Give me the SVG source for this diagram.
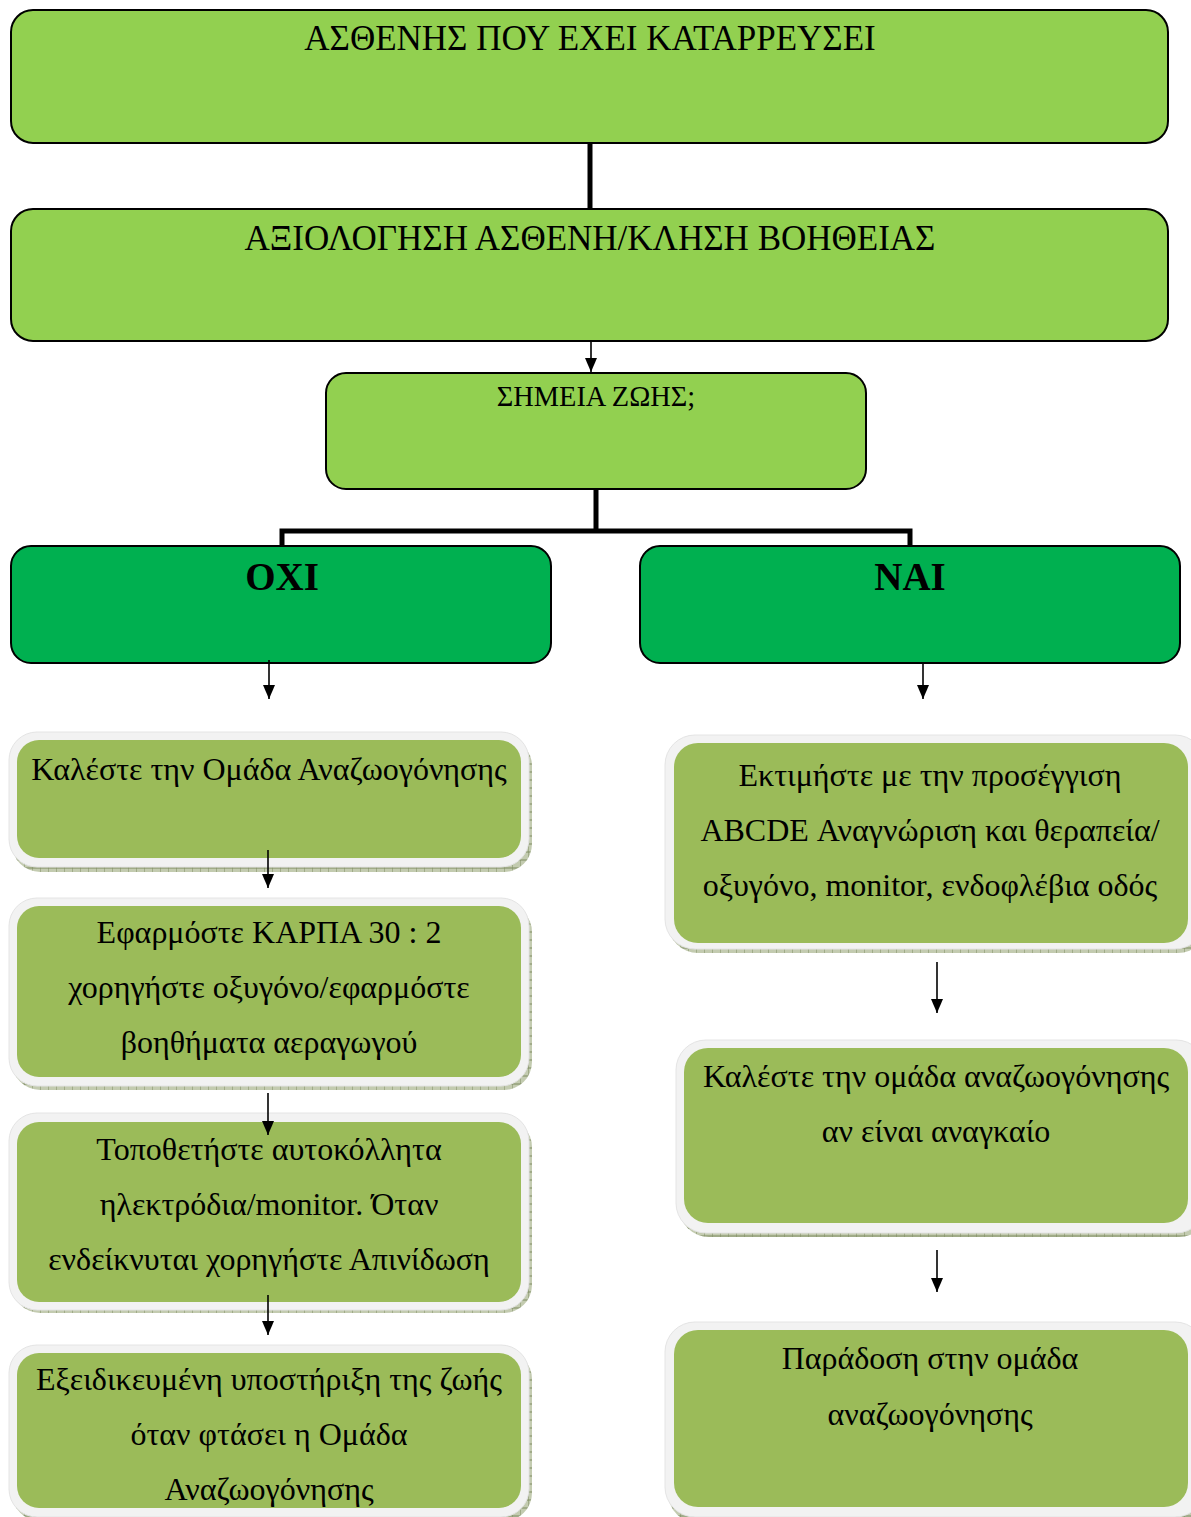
<svg xmlns="http://www.w3.org/2000/svg" width="1191" height="1517" viewBox="0 0 1191 1517">
<defs>
<style>
.top{fill:#92d050;stroke:#000;stroke-width:2}
.dec{fill:#00b050;stroke:#000;stroke-width:2}
.rim{fill:#f2f2f2;stroke:#e4e4e4;stroke-width:1}
.inner{fill:#9bbb59}
.sh{fill:url(#hatch)}
.t{font-family:"Liberation Serif","Times New Roman",serif;fill:#000;text-anchor:middle}
.h{font-size:35px}
.m{font-size:28.4px}
.b{font-size:39px;font-weight:bold}
.s{font-size:32px}
.thick{stroke:#000;stroke-width:5;fill:none}
.thin{stroke:#000;stroke-width:1.6;fill:none;marker-end:url(#ah)}
</style>
<pattern id="hatch" width="8" height="8" patternUnits="userSpaceOnUse">
<rect width="8" height="8" fill="#c3cbb0"/>
<path d="M0 0V8M0 4H8" stroke="#7d8c60" stroke-width="1"/>
</pattern>
<marker id="ah" markerWidth="14" markerHeight="12" refX="14" refY="6" orient="auto" markerUnits="userSpaceOnUse" viewBox="0 0 14 12">
<path d="M0 0L14 6L0 12Z" fill="#000"/>
</marker>
<clipPath id="c4"><rect x="17" y="1353" width="504" height="155" rx="22"/></clipPath>
</defs>

<g id="n1">
<rect class="top" x="11" y="10" width="1157" height="133" rx="22"/>
<text class="t h" x="590" y="50">ΑΣΘΕΝΗΣ ΠΟΥ ΕΧΕΙ ΚΑΤΑΡΡΕΥΣΕΙ</text>
</g>
<g id="n2">
<rect class="top" x="11" y="209" width="1157" height="132" rx="22"/>
<text class="t h" x="590" y="250">ΑΞΙΟΛΟΓΗΣΗ ΑΣΘΕΝΗ/ΚΛΗΣΗ ΒΟΗΘΕΙΑΣ</text>
</g>
<g id="n3">
<rect class="top" x="326" y="373" width="540" height="116" rx="20"/>
<text class="t m" x="596" y="406">ΣΗΜΕΙΑ ΖΩΗΣ;</text>
</g>
<g id="no">
<rect class="dec" x="11" y="546" width="540" height="117" rx="20"/>
<text class="t b" x="282" y="590">ΟΧΙ</text>
</g>
<g id="yes">
<rect class="dec" x="640" y="546" width="540" height="117" rx="20"/>
<text class="t b" x="910" y="590">ΝΑΙ</text>
</g>

<g id="l1">
<rect class="sh" x="12" y="738" width="520" height="134" rx="28"/>
<rect class="rim" x="9" y="732" width="520" height="135" rx="28"/>
<rect class="inner" x="17" y="740" width="504" height="118" rx="22"/>
<text class="t s" x="269" y="780">Καλέστε την Ομάδα Αναζωογόνησης</text>
</g>
<g id="l2">
<rect class="sh" x="12" y="904" width="520" height="186" rx="28"/>
<rect class="rim" x="9" y="898" width="520" height="188" rx="28"/>
<rect class="inner" x="17" y="906" width="504" height="171" rx="22"/>
<text class="t s" x="269" y="943">Εφαρμόστε ΚΑΡΠΑ 30 : 2</text>
<text class="t s" x="269" y="998">χορηγήστε οξυγόνο/εφαρμόστε</text>
<text class="t s" x="269" y="1053">βοηθήματα αεραγωγού</text>
</g>
<g id="l3">
<rect class="sh" x="12" y="1119" width="520" height="194" rx="28"/>
<rect class="rim" x="9" y="1113" width="520" height="197" rx="28"/>
<rect class="inner" x="17" y="1122" width="504" height="180" rx="22"/>
<text class="t s" x="269" y="1160">Τοποθετήστε αυτοκόλλητα</text>
<text class="t s" x="269" y="1215">ηλεκτρόδια/monitor. Όταν</text>
<text class="t s" x="269" y="1270">ενδείκνυται χορηγήστε Απινίδωση</text>
</g>
<g id="l4">
<rect class="sh" x="12" y="1351" width="520" height="170" rx="28"/>
<rect class="rim" x="9" y="1345" width="520" height="172" rx="28"/>
<rect class="inner" x="17" y="1353" width="504" height="155" rx="22"/>
<g clip-path="url(#c4)">
<text class="t s" x="269" y="1390">Εξειδικευμένη υποστήριξη της ζωής</text>
<text class="t s" x="269" y="1445">όταν φτάσει η Ομάδα</text>
<text class="t s" x="269" y="1500">Αναζωογόνησης</text>
</g>
</g>

<g id="r1">
<rect class="sh" x="668" y="741" width="540" height="212" rx="30"/>
<rect class="rim" x="665" y="735" width="540" height="214" rx="30"/>
<rect class="inner" x="674" y="743" width="514" height="200" rx="24"/>
<text class="t s" x="930" y="786">Εκτιμήστε με την προσέγγιση</text>
<text class="t s" x="930" y="841">ABCDE Αναγνώριση και θεραπεία/</text>
<text class="t s" x="930" y="896">οξυγόνο, monitor, ενδοφλέβια οδός</text>
</g>
<g id="r2">
<rect class="sh" x="679" y="1046" width="530" height="191" rx="30"/>
<rect class="rim" x="676" y="1040" width="530" height="193" rx="30"/>
<rect class="inner" x="684" y="1048" width="504" height="175" rx="24"/>
<text class="t s" x="936" y="1087">Καλέστε την ομάδα αναζωογόνησης</text>
<text class="t s" x="936" y="1142">αν είναι αναγκαίο</text>
</g>
<g id="r3">
<rect class="sh" x="668" y="1328" width="540" height="195" rx="30"/>
<rect class="rim" x="665" y="1322" width="540" height="195" rx="30"/>
<rect class="inner" x="674" y="1330" width="514" height="177" rx="24"/>
<text class="t s" x="930" y="1369">Παράδοση στην ομάδα</text>
<text class="t s" x="930" y="1425">αναζωογόνησης</text>
</g>

<g id="connectors">
<path class="thick" d="M590 143V209"/>
<path class="thin" d="M591 341V372"/>
<path class="thick" d="M596 489V531M282 546V531H910V546"/>
<path class="thin" d="M269 660V699"/>
<path class="thin" d="M923 663V699"/>
<path class="thin" d="M268 850V888"/>
<path class="thin" d="M268 1093V1135"/>
<path class="thin" d="M268 1295V1335"/>
<path class="thin" d="M937 962V1013"/>
<path class="thin" d="M937 1250V1292"/>
</g>
</svg>
